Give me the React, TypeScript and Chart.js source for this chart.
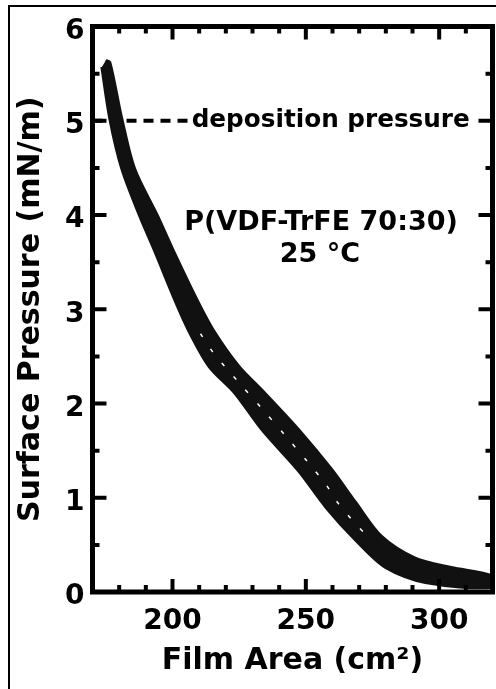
import { useEffect, useRef } from 'react';
import { Chart, registerables } from 'chart.js';

Chart.register(...registerables);

// ---- text ----
const X_TITLE = 'Film Area (cm²)';
const Y_TITLE = 'Surface Pressure (mN/m)';
const DEPOSITION_LABEL = 'deposition pressure';
const SAMPLE_LABEL = ['P(VDF-TrFE 70:30)', '25 °C'];

// ---- axes ----
const X_MIN = 170;
const X_MAX = 320;
const Y_MIN = 0;
const Y_MAX = 6;
const xMajorTicks = [200, 250, 300];
const xMinorTicks = [180, 190, 210, 220, 230, 240, 260, 270, 280, 290, 310];
const yMajorTicks = [0, 1, 2, 3, 4, 5, 6];
const yMinorTicks = [0.5, 1.5, 2.5, 3.5, 4.5, 5.5];

// ---- isotherm band (upper/right edge and lower/left edge of the thick trace) ----
const bandUpperX = [175.0, 176.5, 181.0, 185.8, 194.4, 200.0, 209.0, 215.7, 225.0, 234.3, 247.4, 259.7, 268.7, 278.4, 291.0, 304.5, 320.0];
const bandUpperY = [5.64, 5.62, 5.02, 4.49, 3.99, 3.64, 3.11, 2.76, 2.39, 2.12, 1.72, 1.30, 0.95, 0.59, 0.36, 0.26, 0.17];
const bandLowerX = [173.5, 176.5, 181.0, 187.7, 193.0, 200.7, 206.3, 213.8, 223.1, 233.6, 247.4, 257.5, 268.7, 279.9, 294.8, 320.0];
const bandLowerY = [5.57, 5.02, 4.49, 3.99, 3.64, 3.11, 2.76, 2.39, 2.12, 1.72, 1.28, 0.90, 0.55, 0.26, 0.10, 0.05];

// ---- white dashed centre trace ----
const fitX = [210.5, 215.0, 220.0, 225.0, 233.1, 242.0, 250.7, 257.8, 261.9, 267.2, 273.1, 275.0];
const fitY = [2.74, 2.55, 2.38, 2.22, 1.96, 1.67, 1.38, 1.13, 0.95, 0.77, 0.59, 0.54];

// ---- deposition pressure line ----
const depositionX = [170, 207];
const depositionY = [5, 5];

// annotation anchors (data coords)
const DEPOSITION_TEXT_AT = { x: 207.2, y: 5 };
const SAMPLE_TEXT_AT = [
  { x: 255.7, y: 3.91 },
  { x: 255.3, y: 3.58 },
];

const FONT = "'DejaVu Sans', 'Liberation Sans', sans-serif";

const axesPlugin = {
  id: 'axesFrame',
  beforeDraw(chart: any) {
    const { ctx, width, height } = chart;
    ctx.save();
    ctx.fillStyle = '#fff';
    ctx.fillRect(0, 0, width, height);
    ctx.strokeStyle = '#000';
    ctx.lineWidth = 2;
    ctx.beginPath();
    ctx.moveTo(9, height + 5);
    ctx.lineTo(9, 6);
    ctx.lineTo(width + 5, 6);
    ctx.stroke();
    ctx.restore();
  },
  afterDatasetsDraw(chart: any) {
    const { ctx, chartArea } = chart;
    const xs = chart.scales.x;
    const ys = chart.scales.y;
    const { left, right, top, bottom } = chartArea;
    ctx.save();
    ctx.strokeStyle = '#000';
    ctx.lineCap = 'butt';
    ctx.lineWidth = 4;
    const drawX = (v: number, len: number) => {
      const px = xs.getPixelForValue(v);
      ctx.beginPath();
      ctx.moveTo(px, bottom);
      ctx.lineTo(px, bottom - len);
      ctx.moveTo(px, top);
      ctx.lineTo(px, top + len);
      ctx.stroke();
    };
    const drawY = (v: number, len: number) => {
      const py = ys.getPixelForValue(v);
      ctx.beginPath();
      ctx.moveTo(left, py);
      ctx.lineTo(left + len, py);
      ctx.moveTo(right, py);
      ctx.lineTo(right - len, py);
      ctx.stroke();
    };
    xMajorTicks.forEach((v) => drawX(v, 13));
    xMinorTicks.forEach((v) => drawX(v, 7));
    yMajorTicks.forEach((v) => drawY(v, 14));
    yMinorTicks.forEach((v) => drawY(v, 7));
    ctx.lineWidth = 5;
    ctx.strokeRect(left, top, right - left, bottom - top);

    ctx.fillStyle = '#000';
    ctx.textBaseline = 'middle';
    ctx.font = `bold 24.7px ${FONT}`;
    ctx.textAlign = 'left';
    ctx.fillText(
      DEPOSITION_LABEL,
      xs.getPixelForValue(DEPOSITION_TEXT_AT.x),
      ys.getPixelForValue(DEPOSITION_TEXT_AT.y)
    );
    ctx.font = `bold 27px ${FONT}`;
    ctx.textAlign = 'center';
    SAMPLE_LABEL.forEach((t, i) => {
      ctx.fillText(t, xs.getPixelForValue(SAMPLE_TEXT_AT[i].x), ys.getPixelForValue(SAMPLE_TEXT_AT[i].y));
    });
    ctx.restore();
  },
};

export default function App() {
  const ref = useRef<HTMLCanvasElement | null>(null);
  useEffect(() => {
    if (!ref.current) return;
    const bandPoints = [
      ...bandUpperX.map((x, i) => ({ x, y: bandUpperY[i] })),
      ...bandLowerX.map((x, i) => ({ x, y: bandLowerY[i] })).reverse(),
    ];
    const fitPoints = fitX.map((x, i) => ({ x, y: fitY[i] }));
    const depPoints = depositionX.map((x, i) => ({ x, y: depositionY[i] }));
    const chart = new Chart(ref.current, {
      type: 'line',
      data: {
        datasets: [
          {
            label: 'fit',
            data: fitPoints,
            borderColor: '#ffffff',
            borderWidth: 1.5,
            borderDash: [4, 14],
            pointRadius: 0,
            tension: 0.3,
            fill: false,
          },
          {
            label: 'isotherm',
            data: bandPoints,
            borderColor: '#111111',
            backgroundColor: '#111111',
            borderWidth: 3,
            borderJoinStyle: 'round',
            pointRadius: 0,
            tension: 0.3,
            fill: 'shape',
          },
          {
            label: 'deposition',
            data: depPoints,
            borderColor: '#000000',
            borderWidth: 4,
            borderDash: [10, 7],
            pointRadius: 0,
            tension: 0,
            fill: false,
          },
        ],
      },
      options: {
        animation: false,
        responsive: false,
        maintainAspectRatio: false,
        devicePixelRatio: 1,
        layout: { padding: { left: 8, top: 26.5, right: 3.5, bottom: 0 } },
        plugins: { legend: { display: false }, tooltip: { enabled: false } },
        scales: {
          x: {
            type: 'linear',
            min: X_MIN,
            max: X_MAX,
            grid: { display: false, drawTicks: false },
            border: { display: false },
            afterBuildTicks: (s: any) => {
              s.ticks = xMajorTicks.map((value) => ({ value }));
            },
            ticks: {
              autoSkip: false,
              maxRotation: 0,
              padding: 13,
              color: '#000',
              font: { family: FONT, weight: 'bold', size: 28 },
            },
            title: {
              display: true,
              text: X_TITLE,
              color: '#000',
              padding: { top: 10, bottom: 10 },
              font: { family: FONT, weight: 'bold', size: 30 },
            },
            afterFit: (s: any) => {
              s.height = 97;
            },
          },
          y: {
            type: 'linear',
            min: Y_MIN,
            max: Y_MAX,
            grid: { display: false, drawTicks: false },
            border: { display: false },
            afterBuildTicks: (s: any) => {
              s.ticks = yMajorTicks.map((value) => ({ value }));
            },
            ticks: {
              padding: 8,
              labelOffset: 5,
              color: '#000',
              font: { family: FONT, weight: 'bold', size: 28 },
            },
            title: {
              display: true,
              text: Y_TITLE,
              color: '#000',
              padding: { top: 5, bottom: 5 },
              font: { family: FONT, weight: 'bold', size: 30 },
            },
            afterFit: (s: any) => {
              s.width = 84.5;
            },
          },
        },
      },
      plugins: [axesPlugin],
    } as any);
    return () => chart.destroy();
  }, []);
  return (
    <div style={{ position: 'fixed', left: 0, top: 0, width: 496, height: 689, background: '#fff' }}>
      <canvas ref={ref} width={496} height={689} style={{ display: 'block', width: 496, height: 689 }} />
    </div>
  );
}
